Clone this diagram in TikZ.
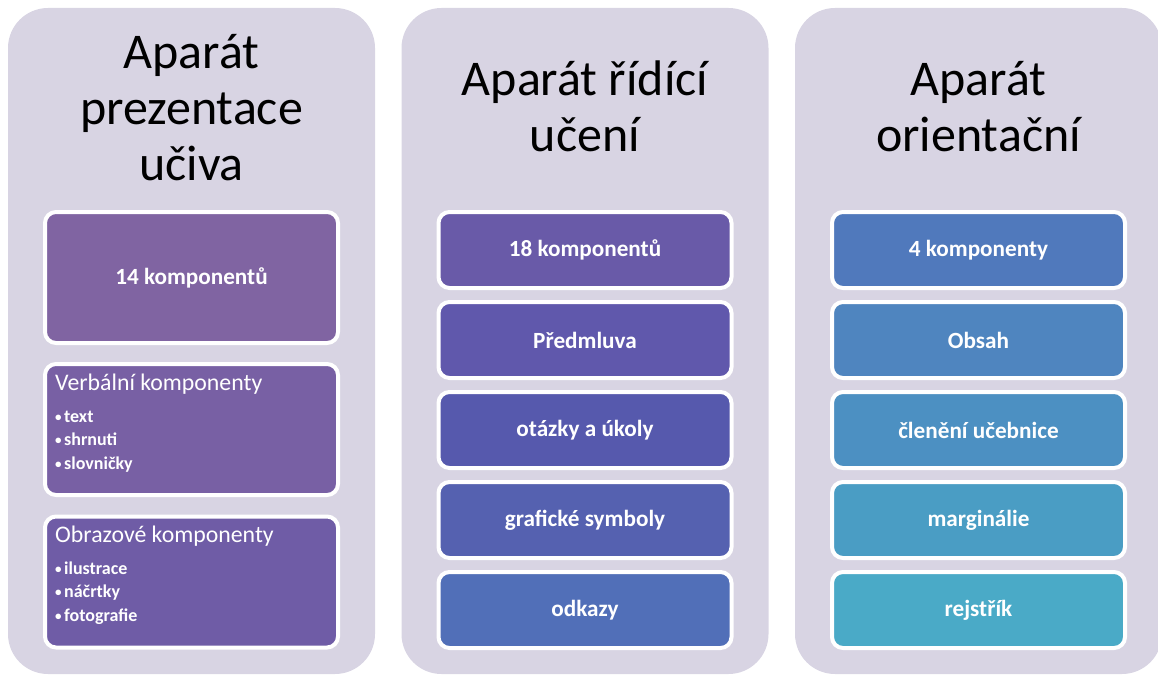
\documentclass[tikz,border=0pt]{standalone}
\usepackage{fontspec}
\setmainfont{Carlito}
\definecolor{panelbg}{RGB}{216,212,227}
\definecolor{ca1}{RGB}{128,100,162}
\definecolor{ca2}{RGB}{120,96,164}
\definecolor{ca3}{RGB}{111,92,166}
\definecolor{cb1}{RGB}{105,90,168}
\definecolor{cb2}{RGB}{96,88,172}
\definecolor{cb3}{RGB}{86,89,173}
\definecolor{cb4}{RGB}{85,97,176}
\definecolor{cb5}{RGB}{81,111,184}
\definecolor{cc1}{RGB}{80,121,188}
\definecolor{cc2}{RGB}{79,133,191}
\definecolor{cc3}{RGB}{76,144,194}
\definecolor{cc4}{RGB}{74,157,196}
\definecolor{cc5}{RGB}{74,170,199}
% small round list bullet
\newcommand{\dotitem}{{\fontsize{13}{13}\selectfont\raisebox{1pt}{•}}\hspace{2.5pt}}
\begin{document}
\begin{tikzpicture}[x=1pt,y=-1pt,
  panel/.style={fill=panelbg,draw=none,rounded corners=40pt,
    minimum width=367pt,minimum height=666pt,inner sep=0pt},
  title/.style={align=center,text=black,inner sep=0pt,anchor=base,
    font=\fontsize{50}{56}\selectfont},
  itembox/.style={draw=white,line width=4pt,rounded corners=11pt,
    minimum width=293pt,inner sep=0pt,text=white,
    font=\fontsize{23.2}{27}\selectfont\bfseries},
  smallbox/.style={itembox,minimum height=76pt},
  tallbox/.style={itembox,minimum height=131pt},
  head/.style={anchor=base west,inner sep=0pt,text=white,
    font=\fontsize{23.8}{28}\selectfont},
  bullet/.style={anchor=base west,inner sep=0pt,text=white,
    font=\fontsize{18}{22}\selectfont\bfseries}]
\useasboundingbox (0,0) rectangle (1158,677);

% three background panels
\node[panel] (p1) at (191.5,341) {};
\node[panel] (p2) at (585,341) {};
\node[panel] (p3) at (978.5,341) {};

% panel titles (anchored at the baseline of their last line)
\node[title] (t1) at (191.5,180) {Aparát\\prezentace\\učiva};
\node[title] (t2) at (585,151) {Aparát řídící\\učení};
\node[title] (t3) at (978.5,151) {Aparát\\orientační};

% first column
\node[tallbox,fill=ca1] (a1) at (191.5,277.5) {14 komponentů};
\node[tallbox,fill=ca2] (a2) at (191.5,429.5) {};
\node[tallbox,fill=ca3] (a3) at (191.5,582) {};
\node[head] (a2h) at (55,390) {Verbální komponenty};
\node[bullet] (a2i) at (55,422) {\dotitem text};
\node[bullet] (a2j) at (55,445.5) {\dotitem shrnuti};
\node[bullet] (a2k) at (55,469) {\dotitem slovničky};
\node[head] (a3h) at (55,542) {Obrazové komponenty};
\node[bullet] (a3i) at (55,574) {\dotitem ilustrace};
\node[bullet] (a3j) at (55,597.5) {\dotitem náčrtky};
\node[bullet] (a3k) at (55,621) {\dotitem fotografie};

% second column
\node[smallbox,fill=cb1] (b1) at (585,250) {18 komponentů};
\node[smallbox,fill=cb2] (b2) at (585,340) {Předmluva};
\node[smallbox,fill=cb3] (b3) at (585,430) {otázky a úkoly};
\node[smallbox,fill=cb4] (b4) at (585,520) {grafické symboly};
\node[smallbox,fill=cb5] (b5) at (585,610) {odkazy};

% third column
\node[smallbox,fill=cc1] (c1) at (978.5,250) {4 komponenty};
\node[smallbox,fill=cc2] (c2) at (978.5,340) {Obsah};
\node[smallbox,fill=cc3] (c3) at (978.5,430) {členění učebnice};
\node[smallbox,fill=cc4] (c4) at (978.5,520) {marginálie};
\node[smallbox,fill=cc5] (c5) at (978.5,610) {rejstřík};
\end{tikzpicture}
\end{document}
